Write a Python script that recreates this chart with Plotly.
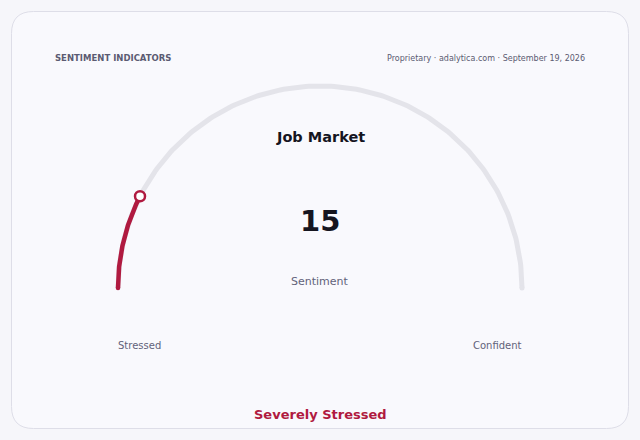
import numpy as np
import plotly.graph_objects as go

# ---- data ----
title_text = "Job Market"
value = 15
value_min = 0
value_max = 100
value_label = "Sentiment"
low_label = "Stressed"
high_label = "Confident"
status_label = "Severely Stressed"
header_left = "SENTIMENT INDICATORS"
header_right = "Proprietary · adalytica.com · September 19, 2026"

# ---- style / layout constants ----
W, H = 640, 440
CX, CY, R = 320, 288, 202
RED = "#b01a40"
TRACK = "#e4e4ea"
FONT = "DejaVu Sans"

def arc_points(v0, v1, n=200):
    a0 = np.pi * (1 - (v0 - value_min) / (value_max - value_min))
    a1 = np.pi * (1 - (v1 - value_min) / (value_max - value_min))
    t = np.linspace(a0, a1, n)
    return CX + R * np.cos(t), CY - R * np.sin(t)

fig = go.Figure()

tx, ty = arc_points(value_min, value_max)
fig.add_trace(go.Scatter(x=tx, y=ty, mode="lines",
                         line=dict(color=TRACK, width=5), hoverinfo="skip"))
vx, vy = arc_points(value_min, value)
fig.add_trace(go.Scatter(x=vx, y=vy, mode="lines",
                         line=dict(color=RED, width=4.5), hoverinfo="skip"))
# rounded caps
fig.add_trace(go.Scatter(x=[vx[0]], y=[vy[0]], mode="markers",
                         marker=dict(color=RED, size=4.5, line=dict(width=0)),
                         hoverinfo="skip"))
fig.add_trace(go.Scatter(x=[tx[-1]], y=[ty[-1]], mode="markers",
                         marker=dict(color=TRACK, size=5, line=dict(width=0)),
                         hoverinfo="skip"))
# end marker
fig.add_trace(go.Scatter(x=[vx[-1]], y=[vy[-1]], mode="markers",
                         marker=dict(color="white", size=10,
                                     line=dict(color=RED, width=2.5)),
                         hoverinfo="skip"))

# card outline (rounded rect)
x0, y0, x1, y1, r = 11.5, 11.5, 628.5, 428.5, 22
card = (f"M {x0+r},{y0} L {x1-r},{y0} Q {x1},{y0} {x1},{y0+r} "
        f"L {x1},{y1-r} Q {x1},{y1} {x1-r},{y1} L {x0+r},{y1} "
        f"Q {x0},{y1} {x0},{y1-r} L {x0},{y0+r} Q {x0},{y0} {x0+r},{y0} Z")

annos = [
    dict(x=53, y=58, text=f"<b>{header_left}</b>", xanchor="left",
         font=dict(size=8.5, color="#5b5b72")),
    dict(x=587, y=58, text=header_right, xanchor="right",
         font=dict(size=8, color="#5b5b72")),
    dict(x=CX, y=137, text=f"<b>{title_text}</b>",
         font=dict(size=14.5, color="#15151f")),
    dict(x=CX, y=221, text=f"<b>{value}</b>",
         font=dict(size=29, color="#15151f")),
    dict(x=CX, y=281, text=value_label,
         font=dict(size=11, color="#62627a")),
    dict(x=139.5, y=345, text=low_label,
         font=dict(size=10, color="#62627a")),
    dict(x=497.5, y=345, text=high_label,
         font=dict(size=10, color="#62627a")),
    dict(x=CX, y=414, text=f"<b>{status_label}</b>",
         font=dict(size=13, color=RED)),
]
for a in annos:
    a.setdefault("xanchor", "center")
    a.update(xref="x", yref="y", yanchor="middle", showarrow=False)

fig.update_layout(
    width=W, height=H,
    margin=dict(l=0, r=0, t=0, b=0),
    paper_bgcolor="#f6f6fa",
    plot_bgcolor="rgba(0,0,0,0)",
    showlegend=False,
    font=dict(family=FONT),
    xaxis=dict(range=[0, W], visible=False, fixedrange=True),
    yaxis=dict(range=[H, 0], visible=False, fixedrange=True),
    shapes=[dict(type="path", path=card, xref="x", yref="y",
                 fillcolor="#f9f9fd", line=dict(color="#dedee8", width=1),
                 layer="below")],
    annotations=annos,
)

fig.write_html("out.html", config={"displayModeBar": False},
               post_script="document.body.style.margin='0';document.body.style.background='#f6f6fa';")
